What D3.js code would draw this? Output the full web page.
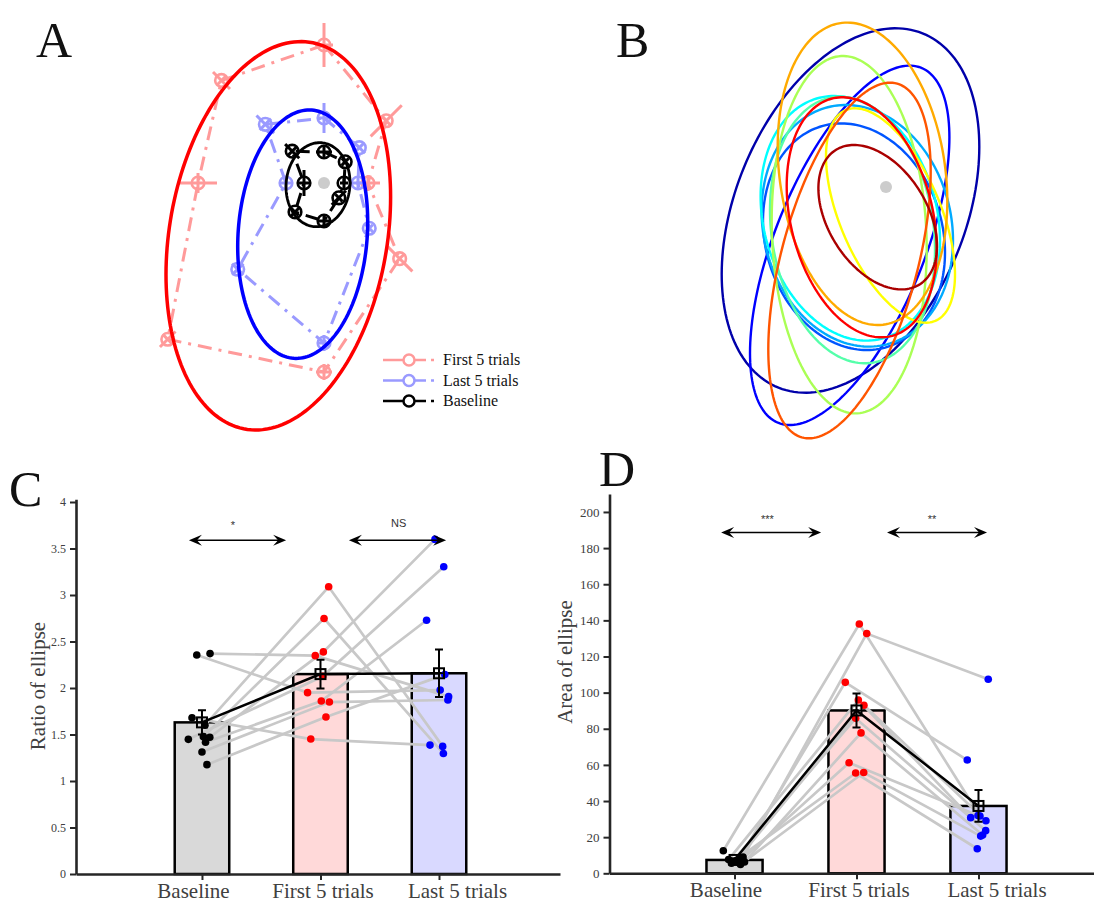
<!DOCTYPE html>
<html>
<head>
<meta charset="utf-8">
<script src="https://cdn.jsdelivr.net/npm/d3@7"></script>
<style>
  body { margin: 0; background: #fff; }
</style>
</head>
<body>
<div id="chart"></div>
<script>
// ---------------- data ----------------
// Panel A: mean end points for the 8 reach directions (deg), distance from centre
const targetAngles = [90, 45, 0, -45, -90, -135, 180, 135];
const firstRadius = [13.8, 8.8, 4.4, 10.7, 18.9, 22.1, 12.6, 14.5];
const firstRadialSd = [2.2, 2.2, 1.2, 1.8, 0.8, 1.1, 1.9, 1.2];
const firstTangentSd = [0.9, 0.7, 0.8, 0.7, 0.8, 0.7, 1.0, 0.6];
const lastRadius = [6.5, 5.0, 3.4, 6.4, 16.0, 12.2, 3.8, 8.3];
const lastRadialSd = [1.5, 0.6, 0.6, 0.6, 0.8, 0.8, 0.6, 1.25];
const lastTangentSd = [0.6, 0.8, 0.5, 0.5, 0.6, 0.8, 0.5, 0.8];
const baseRadius = [3.1, 3.0, 2.0, 2.1, 3.8, 4.1, 2.0, 4.5];
const baseRadialSd = [0.5, 0.5, 0.4, 0.5, 0.5, 0.6, 0.5, 1.0];
const baseTangentSd = [0.8, 0.5, 0.5, 1.0, 0.5, 0.5, 1.3, 0.6];

// fitted ellipses: [centre x, centre y, half width, half height, correlation]
const firstEllipse = [-4.57, -5.28, 11.23, 19.42, 0.2];
const lastEllipse = [-2.13, -5.12, 6.5, 12.42, 0.1];
const baseEllipse = [-0.6, -0.17, 3.2, 4.2, 0.05];

// Panel B: one ellipse per subject
const subjCx = [-3.55, -3.63, -3.2, -2.87, -3.57, -3.35, -3.68, 0.45, -2.35, -3.65, -2.43, -0.83];
const subjCy = [-2.35, -5.83, -4.97, -3.88, -3.13, -4.3, -4.77, -2.85, 1.32, -7.35, -3.03, -3.02];
const subjW = [12.88, 9.97, 9.1, 9.57, 8.97, 8.25, 7.75, 6.45, 8.48, 8.12, 7.5, 5.93];
const subjH = [18.22, 17.97, 11.33, 12.08, 12.23, 13.33, 17.87, 10.72, 15.12, 17.78, 12.0, 7.22];
const subjR = [0.35, 0.6, -0.14, -0.12, -0.18, -0.15, -0.08, -0.55, -0.18, 0.5, -0.26, -0.4];
const subjColors = ['#0000aa', '#0000ff', '#0055ff', '#00aaff', '#00ffff', '#55ffaa',
                    '#aaff55', '#ffff00', '#ffaa00', '#ff5500', '#ff0000', '#aa0000'];

// Panels C and D
const groups = ['Baseline', 'First 5 trials', 'Last 5 trials'];

const ratioBase = [2.37, 2.355, 1.176, 1.312, 1.416, 1.68, 1.60, 1.477, 1.47, 1.448];
const ratioFirst = [2.348, 1.95, 1.688, 1.849, 1.86, 1.451, 3.088, 2.747, 2.388, 2.126];
const ratioLast = [1.907, 1.978, 2.144, 1.871, 2.729, 1.386, 1.372, 1.296, 3.598, 3.303];
const ratioSem = [0.13, 0.155, 0.255];
const ratioJitBase = [0.068, -0.044, 0.042, 0, 0.030, -0.084, 0.025, 0.012, 0.066, -0.115];
const ratioJitFirst = [-0.044, -0.109, 0.046, 0.075, 0.007, -0.082, 0.069, 0.030, 0.024, 0.019];
const ratioJitLast = [0.081, 0.010, 0.049, 0.075, -0.105, -0.076, 0.031, 0.037, -0.034, 0.040];
const ratioTicks = [0, 0.5, 1, 1.5, 2, 2.5, 3, 3.5, 4];

const areaBase = [12.5, 9.0, 8.4, 7.6, 7.0, 6.6, 6.3, 6.0, 5.6, 4.9];
const areaFirst = [138.0, 132.7, 105.7, 95.9, 93.0, 85.8, 77.7, 61.2, 55.5, 55.8];
const areaLast = [31.7, 107.4, 62.7, 30.8, 29.1, 23.6, 21.2, 32.0, 13.6, 20.6];
const areaSem = [0.8, 9.4, 8.8];
const areaJitBase = [-0.092, 0.070, 0.041, -0.049, 0.016, -0.016, 0.082, 0.033, -0.025, 0.049];
const areaJitFirst = [0.023, 0.084, -0.092, 0.015, 0.061, -0.007, 0.037, -0.061, -0.007, 0.059];
const areaJitLast = [0.012, 0.080, -0.092, -0.064, 0.061, 0.059, 0.034, -0.004, -0.010, 0.018];
const areaTicks = [0, 20, 40, 60, 80, 100, 120, 140, 160, 180, 200];

// ---------------- drawing ----------------
const serif = '"Liberation Serif", "Times New Roman", serif';
const sans = '"Liberation Sans", Arial, sans-serif';

const svg = d3.select('#chart').append('svg')
  .attr('width', 1094)
  .attr('height', 909)
  .style('font-family', serif);

// panel letters
const letters = [['A', 36, 57], ['B', 616, 57], ['C', 9, 506], ['D', 599, 486]];
svg.selectAll('text.letter').data(letters).join('text')
  .attr('class', 'letter')
  .attr('x', d => d[1]).attr('y', d => d[2])
  .attr('font-size', 50).attr('fill', '#111')
  .text(d => d[0]);

function ellipsePoints([cx, cy, w, h, r]) {
  const s = Math.sqrt(1 - r * r);
  return d3.range(0, 2 * Math.PI, Math.PI / 90)
    .map(t => [cx + w * Math.cos(t), cy + h * (r * Math.cos(t) + s * Math.sin(t))]);
}

// ---- Panel A ----
const xA = d3.scaleLinear().domain([-20, 10]).range([124, 424]);
const yA = d3.scaleLinear().domain([-25, 15]).range([433, 33]);
const lineA = d3.line().x(d => xA(d[0])).y(d => yA(d[1]));
const closedA = d3.line().x(d => xA(d[0])).y(d => yA(d[1])).curve(d3.curveLinearClosed);

const reachSets = [
  { radius: firstRadius, rsd: firstRadialSd, tsd: firstTangentSd, light: '#ff9a9a', dark: '#ff0000', ell: firstEllipse, ew: 3.5 },
  { radius: lastRadius, rsd: lastRadialSd, tsd: lastTangentSd, light: '#9a9aff', dark: '#0000ff', ell: lastEllipse, ew: 3.5 },
  { radius: baseRadius, rsd: baseRadialSd, tsd: baseTangentSd, light: '#000000', dark: '#000000', ell: baseEllipse, ew: 2.8 }
];

const gA = svg.append('g');
reachSets.forEach(set => {
  const pts = targetAngles.map((a, i) => {
    const rad = a * Math.PI / 180;
    return { ux: Math.cos(rad), uy: Math.sin(rad), r: set.radius[i], rs: set.rsd[i], ts: set.tsd[i] };
  });
  gA.append('path')
    .attr('d', closedA(pts.map(p => [p.r * p.ux, p.r * p.uy])))
    .attr('fill', 'none').attr('stroke', set.light).attr('stroke-width', 3)
    .attr('stroke-dasharray', '14,7,3,7');
  pts.forEach(p => {
    const radial = [[(p.r - p.rs) * p.ux, (p.r - p.rs) * p.uy], [(p.r + p.rs) * p.ux, (p.r + p.rs) * p.uy]];
    const tang = [[p.r * p.ux - p.ts * p.uy, p.r * p.uy + p.ts * p.ux], [p.r * p.ux + p.ts * p.uy, p.r * p.uy - p.ts * p.ux]];
    [radial, tang].forEach(seg => gA.append('path').attr('d', lineA(seg))
      .attr('stroke', set.light).attr('stroke-width', 3).attr('fill', 'none'));
    gA.append('circle')
      .attr('cx', xA(p.r * p.ux)).attr('cy', yA(p.r * p.uy)).attr('r', 6.3)
      .attr('fill', 'none').attr('stroke', set.light).attr('stroke-width', 2.6);
  });
});
reachSets.forEach(set => {
  gA.append('path').attr('d', closedA(ellipsePoints(set.ell)))
    .attr('fill', 'none').attr('stroke', set.dark).attr('stroke-width', set.ew);
});
gA.append('circle').attr('cx', xA(0)).attr('cy', yA(0)).attr('r', 6).attr('fill', '#cccccc');

// legend
const legendItems = [['First 5 trials', '#ff9a9a'], ['Last 5 trials', '#9a9aff'], ['Baseline', '#000000']];
const leg = gA.selectAll('g.leg').data(legendItems).join('g')
  .attr('transform', (d, i) => `translate(383, ${360 + i * 20.5})`);
leg.append('line').attr('x1', 0).attr('x2', 52)
  .attr('stroke', d => d[1]).attr('stroke-width', 2.5).attr('stroke-dasharray', '43,5,3,20');
leg.append('circle').attr('cx', 26).attr('r', 5.5).attr('fill', '#fff')
  .attr('stroke', d => d[1]).attr('stroke-width', 2.5);
leg.append('text').attr('x', 60).attr('dy', '0.33em').attr('font-size', 16).attr('fill', '#111')
  .text(d => d[0]);

// ---- Panel B ----
const xB = d3.scaleLinear().domain([-20, 12]).range([686, 1006]);
const yB = d3.scaleLinear().domain([-25, 17]).range([437, 17]);
const closedB = d3.line().x(d => xB(d[0])).y(d => yB(d[1])).curve(d3.curveLinearClosed);
svg.append('g').selectAll('path').data(subjCx).join('path')
  .attr('d', (d, i) => closedB(ellipsePoints([subjCx[i], subjCy[i], subjW[i], subjH[i], subjR[i]])))
  .attr('fill', 'none')
  .attr('stroke', (d, i) => subjColors[i])
  .attr('stroke-width', 2.4);
svg.append('circle').attr('cx', xB(0)).attr('cy', yB(0)).attr('r', 6).attr('fill', '#cccccc');

// ---- Panels C and D ----
const barFill = ['#d9d9d9', '#ffd9d9', '#d9d9ff'];
const dotFill = ['#000000', '#ff0000', '#0000ff'];
const labelShift = [-9, 2, 18];

function doubleArrow(g, x1, x2, y) {
  g.append('line').attr('x1', x1 + 6).attr('x2', x2 - 6).attr('y1', y).attr('y2', y)
    .attr('stroke', '#000').attr('stroke-width', 1.5);
  const head = 'M0,0 L-13,-5.5 L-8,0 L-13,5.5 Z';
  g.append('path').attr('d', head).attr('transform', `translate(${x2},${y})`);
  g.append('path').attr('d', head).attr('transform', `translate(${x1},${y}) rotate(180)`);
}

function drawBarPanel(p) {
  const g = svg.append('g');
  const x = d3.scaleLinear().domain(p.xDomain).range(p.xRange);
  const y = d3.scaleLinear().domain(p.yDomain).range(p.yRange);
  const vals = [p.base, p.first, p.last];
  const jit = [p.jBase, p.jFirst, p.jLast];
  const means = vals.map(v => d3.mean(v));
  const barW = x(0.46) - x(0);

  g.selectAll(null).data(means).join('rect')
    .attr('x', (d, i) => x(i + 1) - barW / 2)
    .attr('y', d => y(d))
    .attr('width', barW)
    .attr('height', d => y(0) - y(d))
    .attr('fill', (d, i) => barFill[i])
    .attr('stroke', '#000').attr('stroke-width', 2.5);

  const line = d3.line().x(d => x(d[0])).y(d => y(d[1]));
  const subjects = d3.range(p.base.length).map(s => vals.map((v, i) => [i + 1 + jit[i][s], v[s]]));
  g.selectAll(null).data(subjects).join('path')
    .attr('d', line).attr('fill', 'none')
    .attr('stroke', '#c8c8c8').attr('stroke-width', 2.7);

  vals.forEach((v, i) => {
    g.selectAll(null).data(v).join('circle')
      .attr('cx', (d, s) => x(i + 1 + jit[i][s]))
      .attr('cy', d => y(d))
      .attr('r', 3.8)
      .attr('fill', dotFill[i]);
  });

  const meanPts = means.map((m, i) => [i + 1, m]);
  g.append('path').attr('d', line(meanPts)).attr('fill', 'none')
    .attr('stroke', '#000').attr('stroke-width', 2.5);
  meanPts.forEach((m, i) => {
    const cx = x(m[0]);
    const top = y(m[1] + p.sem[i]), bot = y(m[1] - p.sem[i]);
    g.append('path')
      .attr('d', `M${cx},${top}V${bot}M${cx - 4},${top}H${cx + 4}M${cx - 4},${bot}H${cx + 4}`)
      .attr('stroke', '#000').attr('stroke-width', 2).attr('fill', 'none');
    g.append('rect').attr('x', cx - 5).attr('y', y(m[1]) - 5).attr('width', 10).attr('height', 10)
      .attr('fill', 'none').attr('stroke', '#000').attr('stroke-width', 2);
    g.append('line').attr('x1', cx - 5).attr('x2', cx + 5).attr('y1', y(m[1])).attr('y2', y(m[1]))
      .attr('stroke', '#000').attr('stroke-width', 1.5);
  });

  // significance
  p.arrows.forEach(a => doubleArrow(g, x(a[0]), x(a[1]), y(p.arrowY)));
  g.selectAll(null).data(p.stars).join('text')
    .attr('x', d => x(d[0])).attr('y', y(p.starY))
    .attr('dy', d => d[1] === 'NS' ? '0.35em' : '0.55em')
    .attr('text-anchor', 'middle')
    .attr('font-family', sans).attr('font-size', 11).attr('fill', '#333')
    .text(d => d[1]);

  // axes
  const yAxis = g.append('g').attr('transform', `translate(${p.xRange[0]},0)`)
    .call(d3.axisLeft(y).tickValues(p.ticks).tickFormat(d => String(d))
      .tickSize(6).tickSizeOuter(0).tickPadding(4));
  const xAxis = g.append('g').attr('transform', `translate(0,${p.yRange[0]})`)
    .call(d3.axisBottom(x).tickValues([1, 2, 3]).tickFormat(d => groups[d - 1])
      .tickSize(6).tickSizeOuter(0).tickPadding(3));
  [yAxis, xAxis].forEach(ax => {
    ax.select('.domain').attr('stroke', '#262626').attr('stroke-width', 2.6);
    ax.selectAll('.tick line').attr('stroke', '#262626').attr('stroke-width', 2);
    ax.selectAll('.tick text').attr('fill', '#404040').attr('font-family', serif);
  });
  yAxis.selectAll('.tick text').attr('font-size', p.tickFont);
  xAxis.selectAll('.tick text').attr('font-size', 21).attr('dx', (d, i) => labelShift[i]);

  g.append('text')
    .attr('transform', `translate(${p.ylabelX},${p.ylabelY}) rotate(-90)`)
    .attr('text-anchor', 'middle').attr('font-size', 21).attr('fill', '#404040')
    .text(p.ylabel);
}

drawBarPanel({
  base: ratioBase, first: ratioFirst, last: ratioLast, sem: ratioSem,
  jBase: ratioJitBase, jFirst: ratioJitFirst, jLast: ratioJitLast,
  xDomain: [-0.063, 4.021], xRange: [76, 560],
  yDomain: [0, 4.03], yRange: [874, 874 - 4.03 * 93],
  ticks: ratioTicks, tickFont: 12,
  arrows: [[0.89, 1.71], [2.24, 3.06]], arrowY: 3.59,
  stars: [[1.26, '*'], [2.66, 'NS']], starY: 3.77,
  ylabel: 'Ratio of ellipse', ylabelX: 45, ylabelY: 686
});

drawBarPanel({
  base: areaBase, first: areaFirst, last: areaLast, sem: areaSem,
  jBase: areaJitBase, jFirst: areaJitFirst, jLast: areaJitLast,
  xDomain: [-0.025, 3.947], xRange: [609.5, 1094],
  yDomain: [0, 210], yRange: [873.3, 873.3 - 210 * 1.8067],
  ticks: areaTicks, tickFont: 13,
  arrows: [[0.89, 1.71], [2.25, 3.07]], arrowY: 188.7,
  stars: [[1.27, '***'], [2.62, '**']], starY: 197.4,
  ylabel: 'Area of ellipse', ylabelX: 572, ylabelY: 662
});
</script>
</body>
</html>
